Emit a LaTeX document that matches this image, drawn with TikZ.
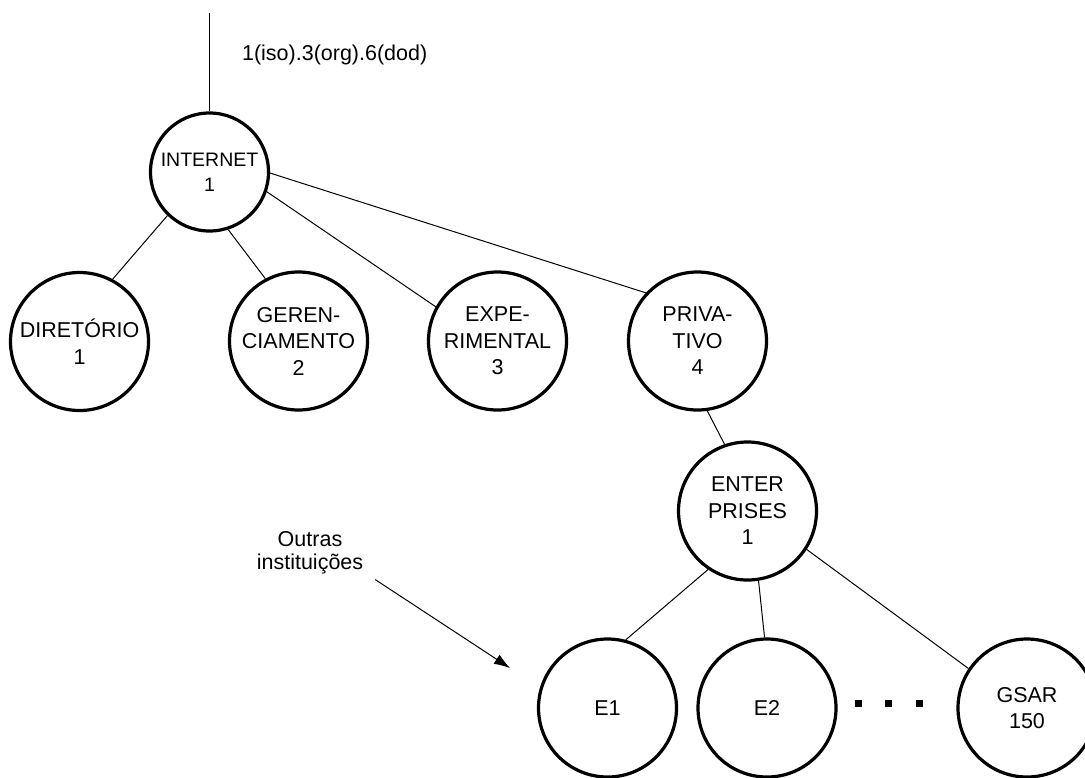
\documentclass[tikz,border=0pt]{standalone}
\usepackage{fontspec}
\setmainfont{Liberation Sans}
\usetikzlibrary{arrows.meta}
\begin{document}
\begin{tikzpicture}[x=0.5pt,y=-0.5pt,
  every node/.style={font=\fontsize{10.75}{13.25}\selectfont},
  oid/.style={circle,draw,line width=1.6pt,inner sep=0pt,align=center,minimum size=69pt},
  root/.style={oid,minimum size=59pt,font=\fontsize{9.75}{12.5}\selectfont},
  link/.style={line width=0.5pt},
  pointer/.style={line width=0.5pt,-{Latex[length=8pt,width=5.5pt]}}]
  % page frame
  \clip (0,0) rectangle (1085,777);
  \fill[white] (0,0) rectangle (1085,777);

  % tree nodes
  \node[root] (inet) at (209.5,172) {INTERNET\\1};
  \node[oid] (dir)  at (79.5,341.5) {DIRETÓRIO\\1};
  \node[oid] (ger)  at (298.5,341)  {GEREN-\\CIAMENTO\\2};
  \node[oid] (exp)  at (497.5,341)  {EXPE-\\RIMENTAL\\3};
  \node[oid] (priv) at (697.5,341)  {PRIVA-\\TIVO\\4};
  \node[oid] (ent)  at (747.5,511)  {ENTER\\PRISES\\1};
  \node[oid] (e1)   at (607.5,708)  {E1};
  \node[oid] (e2)   at (767,708)    {E2};
  \node[oid] (gsar) at (1027,708)   {GSAR\\150};

  % branch from above
  \coordinate (above) at (209.5,13);
  \draw[link] (above) -- (inet.north);
  \node[anchor=base west] (path) at (235,60) {1(iso).3(org).6(dod)};

  % edges
  \draw[link] (inet.226) -- (dir.62);
  \draw[link] (inet.288) -- (ger.118);
  \draw[link] (inet.341) -- (exp.151);
  \draw[link] (inet.359) -- (priv.137);
  \draw[link] (priv.278) -- (ent.109);
  \draw[link] (ent.236) -- (e1.75);
  \draw[link] (ent.279) -- (e2.92);
  \draw[link] (ent.327) -- (gsar.146);

  % ellipsis between E2 and GSAR
  \foreach \cx in {858,888,919}
    \fill (\cx-3.5,699.5) rectangle (\cx+3.5,706.5);

  % annotation
  \node[align=center,font=\fontsize{10.75}{11.75}\selectfont] (outras) at (310,553) {Outras\\instituições};
  \coordinate (tip) at (510,668);
  \draw[pointer] ([shift={(5,-2)}]outras.south east) -- (tip);
\end{tikzpicture}
\end{document}
